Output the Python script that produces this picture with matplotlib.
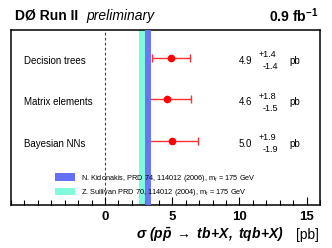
import matplotlib
matplotlib.use("Agg")
import matplotlib.pyplot as plt
from matplotlib.patches import Patch

plt.rcParams['font.family'] = ['Liberation Sans', 'DejaVu Sans']
plt.rcParams['mathtext.fontset'] = 'custom'
plt.rcParams['mathtext.rm'] = 'Liberation Sans'
plt.rcParams['mathtext.it'] = 'Liberation Sans:italic'
plt.rcParams['mathtext.bf'] = 'Liberation Sans:bold'
plt.rcParams['mathtext.bfit'] = 'Liberation Sans:italic:bold'

# ---- data ----
methods = ["Decision trees", "Matrix elements", "Bayesian NNs"]
values = [4.9, 4.6, 5.0]
err_up = [1.4, 1.8, 1.9]
err_dn = [1.4, 1.5, 1.9]
theory_labels = ["N. Kidonakis, PRD 74, 114012 (2006), m$_t$ = 175 GeV",
                 "Z. Sullivan PRD 70, 114012 (2004), m$_t$ = 175 GeV"]
theory_lo = [3.0, 2.5]
theory_hi = [3.44, 3.02]
theory_colors = ["#6470f8", "#7ffadb"]
xticks = [0, 5, 10, 15]

fig = plt.figure(figsize=(3.32, 2.48), dpi=100)
ax = fig.add_axes([11/332, 1-205/248, 309/332, 175/248])

rows = [1, 2, 3]
# bands
ax.axvspan(theory_lo[1], theory_hi[1], color=theory_colors[1], lw=0, zorder=1)
ax.axvspan(theory_lo[0], theory_hi[0], color=theory_colors[0], lw=0, zorder=3, alpha=0.95)
ax.axvline(0, color='#444444', ls=(0, (2.5, 2)), lw=0.8, zorder=1)

ax.errorbar(values, rows, xerr=[err_dn, err_up], fmt='o', color='red', ecolor='#ff3030',
            markersize=4.5, elinewidth=1.0, capsize=2.6, capthick=1.0, zorder=2)

for r, m, v, u, d in zip(rows, methods, values, err_up, err_dn):
    ax.text(-6.05, r + 0.07, m, fontsize=7, va='center', ha='left')
    ax.text(10.95, r + 0.07, f"{v:.1f}", fontsize=7, va='center', ha='right')
    ax.text(11.45, r - 0.07, f"+{u:.1f}", fontsize=6.5, va='center', ha='left')
    ax.text(11.7, r + 0.215, f"-{d:.1f}", fontsize=6.5, va='center', ha='left')
    ax.text(13.7, r + 0.07, "pb", fontsize=7, va='center', ha='left')

ax.set_xlim(-7, 16)
ax.set_ylim(4.55, 0.333)
ax.set_yticks([])
ax.set_xticks(xticks)
ax.set_xticks(range(-7, 17), minor=True)
ax.set_xticklabels([str(t) for t in xticks], fontsize=9.5, fontweight='bold')
ax.tick_params(axis='x', which='major', direction='in', length=6, width=0.8, pad=4)
ax.tick_params(axis='x', which='minor', direction='in', length=3.5, width=0.8)
for s in ax.spines.values():
    s.set_linewidth(1.1)

handles = [Patch(facecolor=c, edgecolor='none') for c in theory_colors]
ax.legend(handles, theory_labels, fontsize=5.3, frameon=False, loc='upper left',
          bbox_to_anchor=(48/332, 1-166/248), bbox_transform=fig.transFigure,
          handlelength=2.7, handleheight=1.15, handletextpad=0.9, labelspacing=0.5,
          borderpad=0.4)

fig.text(15/332, 1-16/248, "DØ Run II", fontsize=10, fontweight='bold', va='center', ha='left')
fig.text(86/332, 1-16/248, "preliminary", fontsize=10, style='italic', va='center', ha='left')
fig.text(318/332, 1-16/248, r"0.9 fb$^{\mathbf{-1}}$", fontsize=10, fontweight='bold', va='center', ha='right')

fig.text(284/332, 1-235/248, r"$\mathbfit{\sigma\ (p\bar{p}\ \rightarrow\ tb\!+\!X,\ tqb\!+\!X)}$",
         fontsize=10, va='center', ha='right')
fig.text(296/332, 1-235/248, "[pb]", fontsize=10, va='center', ha='left')

fig.savefig("out.png", dpi=100)
